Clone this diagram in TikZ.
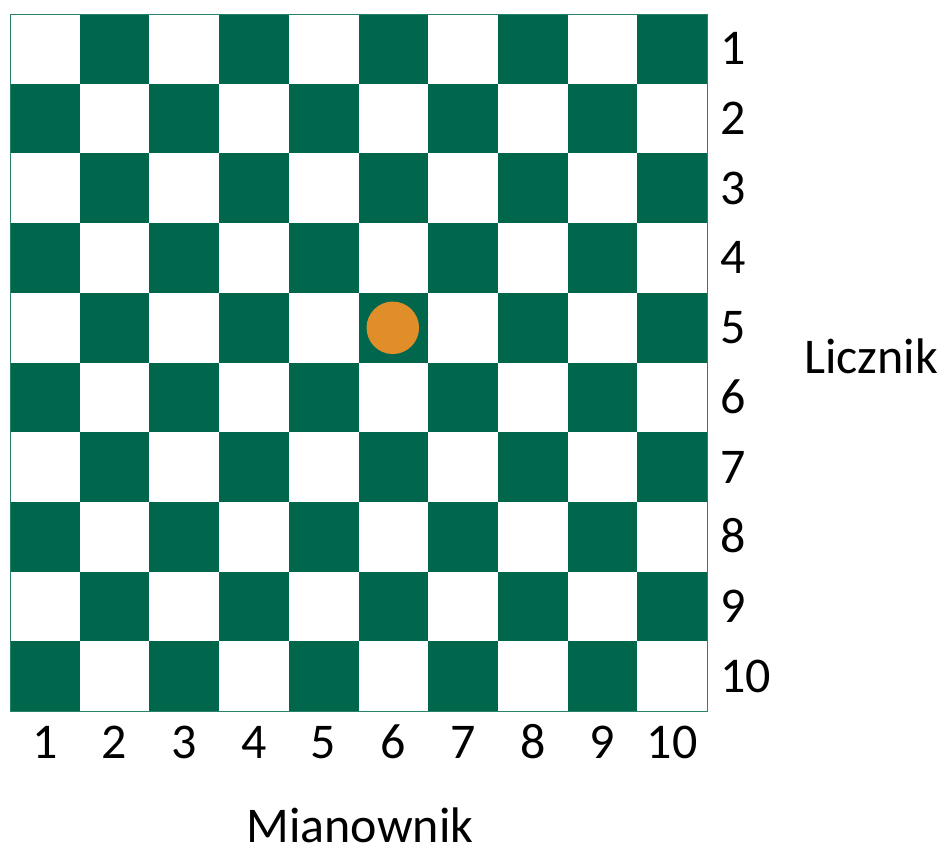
\documentclass[tikz,border=0pt]{standalone}
\usepackage{fontspec}
\setmainfont{Carlito}
\definecolor{boardgreen}{RGB}{0,102,76}
\definecolor{edgegreen}{RGB}{40,130,105}
\definecolor{dotorange}{RGB}{224,142,42}
\begin{document}
\begin{tikzpicture}[x=1pt,y=-1pt,
  lbl/.style={font=\fontsize{50}{58}\selectfont,anchor=base,inner sep=0pt},
  rowlbl/.style={lbl,anchor=base west}]
\useasboundingbox (0,0) rectangle (942,849);
\def\cs{69.7}
\foreach \r in {0,...,9}{
  \foreach \c in {0,...,9}{
    \pgfmathtruncatemacro{\parity}{mod(\r+\c,2)}
    \ifnum\parity=1
      \fill[boardgreen] (10+\c*\cs,14+\r*\cs) rectangle ++(\cs,\cs);
    \fi
  }
}
\draw[edgegreen,line width=0.9pt] (10,14) rectangle (707,711);
\node[circle,fill=dotorange,minimum size=52.5pt,inner sep=0pt] (dot) at (392.8,327.8) {};
\foreach \i in {1,...,10}{
  \node[lbl] (col\i) at ({10+(\i-0.5)*\cs},758) {\i};
  \node[rowlbl] (row\i) at (720,{14+(\i-0.5)*\cs+16}) {\i};
}
\node[lbl] (licznik) at (871,373) {Licznik};
\node[lbl] (mianownik) at (360,842) {Mianownik};
\end{tikzpicture}
\end{document}
